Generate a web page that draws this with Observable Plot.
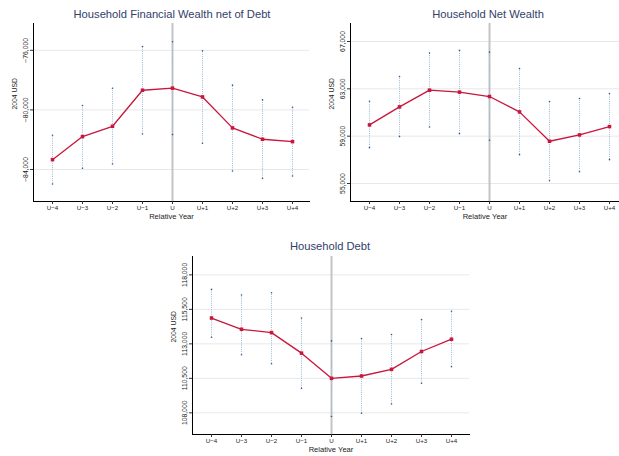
<!DOCTYPE html>
<html><head><meta charset="utf-8">
<script src="https://cdn.jsdelivr.net/npm/d3@7"></script>
<script src="https://cdn.jsdelivr.net/npm/@observablehq/plot@0.6"></script>
<style>
body{margin:0;background:#fff;font-family:"Liberation Sans",Arial,sans-serif;}
#wrap{position:relative;width:619px;height:456px;overflow:hidden;}
.panel{position:absolute;}
.title{position:absolute;font-size:11.2px;color:#33416a;text-align:center;white-space:nowrap;transform:translateX(-50%);line-height:14px;}
</style></head>
<body><div id="wrap"></div>
<script>
const categories = ["U−4","U−3","U−2","U−1","U","U+1","U+2","U+3","U+4"];

// Household Financial Wealth net of Debt
const finEst = [-83340,-81790,-81100,-78680,-78540,-79130,-81210,-81970,-82130];
const finLo  = [-84975,-83920,-83630,-81615,-81660,-82240,-84100,-84595,-84435];
const finHi  = [-81705,-79710,-78545,-75740,-75430,-76035,-78340,-79330,-79820];
const finTicks = [-84000,-80000,-76000];

// Household Net Wealth
const netEst = [59950,61475,62885,62720,62350,61050,58570,59105,59810];
const netLo  = [58030,58965,59780,59215,58655,57440,55235,56000,57015];
const netHi  = [61955,64045,66020,66245,66105,64720,61925,62180,62605];
const netTicks = [55000,59000,63000,67000];

// Household Debt
const debtEst = [114870,114055,113815,112325,110500,110670,111150,112445,113335];
const debtLo  = [113480,112205,111555,109775,107730,107970,108645,110140,111345];
const debtHi  = [116945,116535,116705,114870,113215,113385,113675,114760,115360];
const debtTicks = [108000,110500,113000,115500,118000];

const wrap = document.getElementById("wrap");
const FONT = '"Liberation Sans",Arial,sans-serif';

function panel(cfg){
  const rows = categories.map((c,i)=>({c, est:cfg.est[i], lo:cfg.lo[i], hi:cfg.hi[i]}));
  const svg = Plot.plot({
    width: cfg.w, height: cfg.h,
    marginLeft: cfg.ml, marginTop: cfg.mt, marginRight: cfg.w - cfg.right, marginBottom: cfg.h - cfg.bottom,
    style:{fontFamily:FONT, fontSize:"6.5px", background:"#fff", color:"#333"},
    x:{type:"point", domain:categories, range:cfg.xr, padding:0},
    y:{domain:cfg.yd},
    marks:[
      Plot.gridY(cfg.ticks,{stroke:"#e8e8e8", strokeOpacity:1, strokeWidth:1}),
      Plot.ruleX(["U"],{stroke:"#c4c4c4", strokeWidth:2}),
      Plot.ruleX(rows,{x:"c", y1:"lo", y2:"hi", stroke:"#9cb8d8", strokeWidth:1, strokeDasharray:"1,1.2"}),
      Plot.dot(rows,{x:"c", y:"lo", r:0.8, fill:"#2f5a8c", stroke:null}),
      Plot.dot(rows,{x:"c", y:"hi", r:0.8, fill:"#2f5a8c", stroke:null}),
      Plot.line(rows,{x:"c", y:"est", stroke:"#c8163c", strokeWidth:1.3}),
      Plot.dot(rows,{x:"c", y:"est", symbol:"square", r:2, fill:"#c8163c", stroke:null}),
      Plot.frame({anchor:"left", stroke:"#000", strokeWidth:1}),
      Plot.frame({anchor:"bottom", stroke:"#000", strokeWidth:1}),
      Plot.axisY(cfg.ticks,{tickFormat:d3.format(","), tickRotate:-90, tickSize:3, tickPadding:3, fill:"#222", label:null, fontSize:6.8}),
      Plot.axisX({tickSize:3, tickPadding:1.5, fill:"#222", label:null, fontSize:6.2}),
      Plot.text(["2004 USD"],{frameAnchor:"left", dx:-cfg.ylo, dy:-3, rotate:-90, fontSize:6.8, fill:"#222"}),
      Plot.text(["Relative Year"],{frameAnchor:"bottom", dy:17, fontSize:7.6, fill:"#222"})
    ]
  });
  svg.classList.add("panel");
  svg.style.left = cfg.left+"px"; svg.style.top = cfg.top+"px";
  wrap.appendChild(svg);
  const t = document.createElement("div");
  t.className="title"; t.textContent = cfg.title;
  t.style.left = cfg.tx+"px"; t.style.top = cfg.ty+"px";
  wrap.appendChild(t);
}

panel({title:"Household Financial Wealth net of Debt", est:finEst, lo:finLo, hi:finHi, ticks:finTicks,
  left:0, top:0, w:310, h:225, ml:33, mt:23, right:309, bottom:201, xr:[51.7,292.3], yd:[-86150,-74200],
  tx:172, ty:7, ylo:19});
panel({title:"Household Net Wealth", est:netEst, lo:netLo, hi:netHi, ticks:netTicks,
  left:310, top:0, w:309, h:225, ml:40, mt:23, right:309, bottom:201, xr:[58.7,299.3], yd:[53480,68520],
  tx:488, ty:7, ylo:18.5});
panel({title:"Household Debt", est:debtEst, lo:debtLo, hi:debtHi, ticks:debtTicks,
  left:160, top:230, w:320, h:226, ml:32, mt:26, right:309, bottom:204, xr:[50.3,291], yd:[106430,119330],
  tx:330, ty:239, ylo:19});
</script></body></html>
